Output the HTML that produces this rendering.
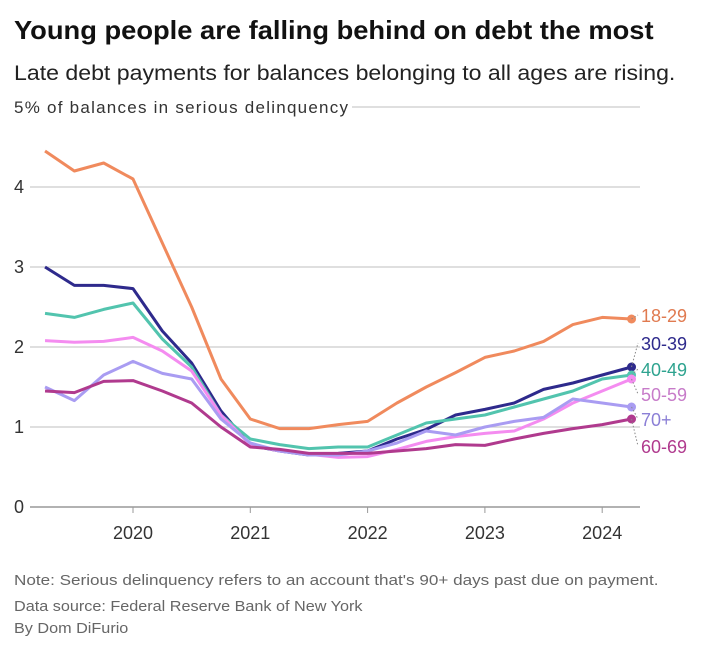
<!DOCTYPE html>
<html><head><meta charset="utf-8"><style>
body{margin:0;background:#fff;font-family:"Liberation Sans",sans-serif;}
#wrap{position:relative;width:720px;height:652px;overflow:hidden}
.t{position:absolute;white-space:nowrap;transform-origin:0 0}
</style></head><body>
<div id="wrap">
<div class="t" style="left:14px;top:15px;font-size:26px;font-weight:bold;color:#111;transform:scaleX(1.05)">Young people are falling behind on debt the most</div>
<div class="t" style="left:14px;top:62px;font-size:21px;color:#222;transform:scaleX(1.1)">Late debt payments for balances belonging to all ages are rising.</div>
<svg id="chart" width="720" height="560" style="position:absolute;left:0;top:0"></svg>
<div class="t" style="left:14px;top:572px;font-size:15px;color:#666;transform:scaleX(1.14)">Note: Serious delinquency refers to an account that's 90+ days past due on payment.</div>
<div class="t" style="left:14px;top:598px;font-size:15px;color:#666;transform:scaleX(1.08)">Data source: Federal Reserve Bank of New York</div>
<div class="t" style="left:14px;top:620px;font-size:15px;color:#666;transform:scaleX(1.08)">By Dom DiFurio</div>
</div>
<script>
const quarters=[2019.25,2019.5,2019.75,2020,2020.25,2020.5,2020.75,2021,2021.25,2021.5,2021.75,2022,2022.25,2022.5,2022.75,2023,2023.25,2023.5,2023.75,2024,2024.25];
const s1829=[4.45,4.2,4.3,4.1,3.3,2.5,1.6,1.1,0.98,0.98,1.03,1.07,1.3,1.5,1.68,1.87,1.95,2.07,2.28,2.37,2.35];
const s3039=[3.0,2.77,2.77,2.73,2.2,1.8,1.2,0.77,0.7,0.65,0.67,0.7,0.85,0.97,1.15,1.22,1.3,1.47,1.55,1.65,1.75];
const s4049=[2.42,2.37,2.47,2.55,2.1,1.75,1.15,0.85,0.78,0.73,0.75,0.75,0.9,1.05,1.1,1.15,1.25,1.35,1.45,1.6,1.65];
const s5059=[2.08,2.06,2.07,2.12,1.95,1.7,1.15,0.78,0.7,0.66,0.62,0.63,0.72,0.82,0.88,0.92,0.95,1.1,1.3,1.45,1.6];
const s70=[1.5,1.33,1.65,1.82,1.67,1.6,1.1,0.8,0.7,0.65,0.65,0.7,0.8,0.95,0.9,1.0,1.07,1.12,1.35,1.3,1.25];
const s6069=[1.45,1.43,1.57,1.58,1.45,1.3,1.0,0.75,0.72,0.67,0.67,0.67,0.7,0.73,0.78,0.77,0.85,0.92,0.98,1.03,1.1];
const yTicks=[0,1,2,3,4,5];
const xTicks=[2020,2021,2022,2023,2024];
const seriesNames=["18-29","30-39","40-49","50-59","70+","60-69"];
const seriesData=[s1829,s3039,s4049,s5059,s70,s6069];
const colors=["#f08a5d","#2e2a8c","#52c4ae","#f48cf0","#a99cf2","#b03a8e"];
const textColors=["#e07a50","#2e2a8c","#2ea38f","#c77bc9","#8b7fd6","#b03a8e"];
const labelY=[322,350,376,401,426,453];
const X=v=>133+(v-2020)*117.3;
const Y=v=>507-v*80;
const svg=document.getElementById('chart');const NS="http://www.w3.org/2000/svg";
function mk(t,a,p){const e=document.createElementNS(NS,t);for(const k in a)e.setAttribute(k,a[k]);(p||svg).appendChild(e);return e;}
yTicks.forEach(v=>{
 const l=mk('line',{x1:v==5?352:30,x2:640,y1:Y(v),y2:Y(v),stroke:v==0?'#999':'#ccc','stroke-width':v==0?1.5:1.2});
 
 
 const a={x:14,y:Y(v)+6,'font-size':v==5?17:18,fill:'#333','font-family':'Liberation Sans'};
 if(v==5)a.textLength=334;
 const t=mk('text',a);
 t.textContent=v==5?'5% of balances in serious delinquency':v;
 
 
});
xTicks.forEach(v=>{
 const l=mk('line',{x1:X(v),x2:X(v),y1:507,y2:513,stroke:'#999'});
 
 
 const t=mk('text',{x:X(v),y:539,'font-size':18,fill:'#333','text-anchor':'middle','font-family':'Liberation Sans'});
 t.textContent=v;
 
 
});
seriesData.forEach((d,i)=>{
 const p=mk('polyline',{points:d.map((v,j)=>X(quarters[j])+','+Y(v)).join(' '),fill:'none',stroke:colors[i],'stroke-width':3,'stroke-linejoin':'round'});
 
 
 const lx=X(quarters[quarters.length-1]),ly=Y(d[d.length-1]);
 const c=mk('circle',{cx:lx,cy:ly,r:4.5,fill:colors[i]});
 
 
 const ln=mk('line',{x1:lx,y1:ly,x2:638,y2:labelY[i]-7,stroke:'#888','stroke-dasharray':'1.5,2','stroke-width':1});
 
 
 const t=mk('text',{x:641,y:labelY[i],'font-size':18,fill:textColors[i],'font-family':'Liberation Sans'});
 t.textContent=seriesNames[i];
 
 
});
</script>
</body></html>
